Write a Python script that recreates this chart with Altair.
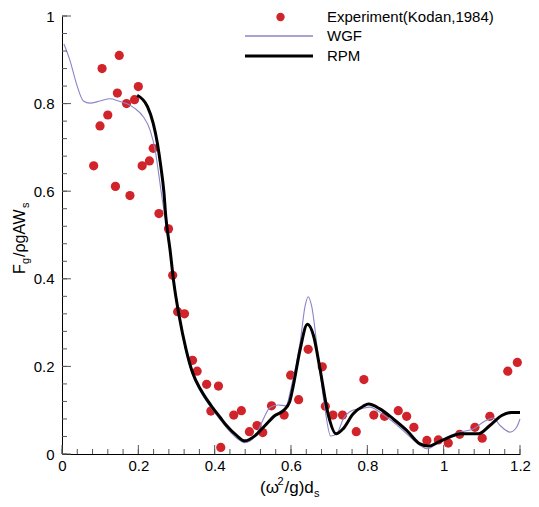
import altair as alt
import pandas as pd

# ---------------- data ----------------
exp_x = [0.083, 0.0996, 0.105, 0.120, 0.140, 0.145, 0.150, 0.169, 0.178, 0.190, 0.200,
         0.210, 0.229, 0.239, 0.254, 0.279, 0.290, 0.303, 0.321, 0.342, 0.354, 0.379,
         0.390, 0.410, 0.416, 0.450, 0.470, 0.491, 0.511, 0.526, 0.549, 0.582, 0.599,
         0.620, 0.645, 0.682, 0.690, 0.710, 0.735, 0.771, 0.791, 0.817, 0.845, 0.881,
         0.903, 0.922, 0.956, 0.986, 1.012, 1.042, 1.082, 1.101, 1.121, 1.168, 1.193]
exp_y = [0.658, 0.749, 0.880, 0.774, 0.611, 0.824, 0.910, 0.800, 0.590, 0.809, 0.839,
         0.658, 0.669, 0.698, 0.549, 0.514, 0.408, 0.325, 0.320, 0.214, 0.189, 0.159,
         0.098, 0.155, 0.015, 0.089, 0.099, 0.051, 0.065, 0.049, 0.110, 0.089, 0.180,
         0.124, 0.239, 0.199, 0.109, 0.089, 0.089, 0.051, 0.170, 0.089, 0.086, 0.099,
         0.086, 0.061, 0.031, 0.032, 0.025, 0.045, 0.061, 0.036, 0.086, 0.189, 0.209]

wgf_x = [0.005, 0.021, 0.038, 0.056, 0.073, 0.100, 0.126, 0.148, 0.169, 0.191, 0.213,
         0.231, 0.244, 0.252, 0.262, 0.272, 0.283, 0.293, 0.307, 0.325, 0.342, 0.364,
         0.392, 0.414, 0.431, 0.458, 0.479, 0.506, 0.525, 0.545, 0.565, 0.587, 0.600,
         0.624, 0.637, 0.645, 0.654, 0.672, 0.689, 0.704, 0.720, 0.737, 0.759, 0.781,
         0.807, 0.833, 0.868, 0.903, 0.938, 0.956, 0.986, 1.017, 1.043, 1.078, 1.104,
         1.130, 1.148, 1.174, 1.191, 1.200]
wgf_y = [0.936, 0.898, 0.845, 0.806, 0.801, 0.806, 0.811, 0.806, 0.800, 0.789, 0.770,
         0.739, 0.694, 0.648, 0.585, 0.530, 0.460, 0.386, 0.310, 0.234, 0.181, 0.141,
         0.104, 0.079, 0.060, 0.036, 0.026, 0.040, 0.075, 0.106, 0.112, 0.110, 0.150,
         0.255, 0.338, 0.359, 0.338, 0.217, 0.103, 0.041, 0.046, 0.080, 0.099, 0.103,
         0.107, 0.095, 0.073, 0.046, 0.020, 0.012, 0.026, 0.042, 0.050, 0.057, 0.073,
         0.082, 0.065, 0.050, 0.061, 0.080]

rpm_x = [0.197, 0.224, 0.239, 0.250, 0.259, 0.267, 0.272, 0.283, 0.293, 0.307, 0.325,
         0.342, 0.364, 0.392, 0.414, 0.431, 0.458, 0.479, 0.506, 0.532, 0.558, 0.580,
         0.596, 0.606, 0.624, 0.643, 0.659, 0.676, 0.698, 0.718, 0.737, 0.763, 0.789,
         0.803, 0.833, 0.868, 0.903, 0.938, 0.960, 0.986, 1.017, 1.043, 1.091, 1.121,
         1.152, 1.178, 1.200]
rpm_y = [0.819, 0.793, 0.755, 0.709, 0.656, 0.598, 0.542, 0.467, 0.391, 0.315, 0.239,
         0.186, 0.146, 0.109, 0.084, 0.065, 0.042, 0.030, 0.042, 0.065, 0.088, 0.099,
         0.118, 0.156, 0.239, 0.296, 0.270, 0.194, 0.088, 0.046, 0.058, 0.092, 0.109,
         0.114, 0.103, 0.080, 0.054, 0.023, 0.018, 0.027, 0.039, 0.046, 0.046, 0.065,
         0.088, 0.095, 0.095]

x_major = [0, 0.2, 0.4, 0.6, 0.8, 1.0, 1.2]
x_minor = [round(i * 0.04, 2) for i in range(31)]
y_major = [0, 0.2, 0.4, 0.6, 0.8, 1.0]
y_minor = [round(i * 0.04, 2) for i in range(26)]

legend_labels = ["Experiment(Kodan,1984)", "WGF", "RPM"]

# ---------------- styling ----------------
W, H = 458, 438
FONT = "Liberation Sans"
RED = "#d0232a"
LAV = "#8a84c8"

xs = alt.Scale(domain=[0, 1.2], nice=False, zero=False)
ys = alt.Scale(domain=[0, 1], nice=False, zero=False)

exp_df = pd.DataFrame({"x": exp_x, "y": exp_y})
wgf_df = pd.DataFrame({"x": wgf_x, "y": wgf_y, "o": range(len(wgf_x))})
rpm_df = pd.DataFrame({"x": rpm_x, "y": rpm_y, "o": range(len(rpm_x))})

xaxis = alt.Axis(values=x_major, format="~g", ticks=False, grid=False, title=None,
                 labelFont=FONT, labelFontSize=15, labelColor="#000",
                 domainColor="#000", labelPadding=4, labelFlush=False)
yaxis = alt.Axis(values=y_major, format="~g", ticks=False, grid=False, title=None,
                 labelFont=FONT, labelFontSize=15, labelColor="#000",
                 domainColor="#000", labelPadding=8, labelFlush=False)

points = alt.Chart(exp_df).mark_circle(size=85, color=RED, opacity=1).encode(
    x=alt.X("x:Q", scale=xs, axis=xaxis),
    y=alt.Y("y:Q", scale=ys, axis=yaxis),
)
wgf = alt.Chart(wgf_df).mark_line(color=LAV, strokeWidth=1.1, interpolate="monotone").encode(
    x=alt.X("x:Q", scale=xs), y=alt.Y("y:Q", scale=ys), order="o:Q")
rpm = alt.Chart(rpm_df).mark_line(color="#000", strokeWidth=3, interpolate="monotone").encode(
    x=alt.X("x:Q", scale=xs), y=alt.Y("y:Q", scale=ys), order="o:Q")

# inward ticks
xmaj = alt.Chart(pd.DataFrame({"v": x_major})).mark_rule(color="#555", strokeWidth=1).encode(
    x=alt.X("v:Q", scale=xs), y=alt.value(H), y2=alt.value(H - 9))
xmin = alt.Chart(pd.DataFrame({"v": x_minor})).mark_rule(color="#555", strokeWidth=1).encode(
    x=alt.X("v:Q", scale=xs), y=alt.value(H), y2=alt.value(H - 5))
ymaj = alt.Chart(pd.DataFrame({"v": y_major})).mark_rule(color="#555", strokeWidth=1).encode(
    y=alt.Y("v:Q", scale=ys), x=alt.value(0), x2=alt.value(9))
ymin = alt.Chart(pd.DataFrame({"v": y_minor})).mark_rule(color="#555", strokeWidth=1).encode(
    y=alt.Y("v:Q", scale=ys), x=alt.value(0), x2=alt.value(5))

# legend
leg_pt = alt.Chart(pd.DataFrame({"k": [0]})).mark_circle(size=70, color=RED, opacity=1).encode(
    x=alt.value(218.5), y=alt.value(1))
leg_wgf = alt.Chart(pd.DataFrame({"k": [0]})).mark_rule(color=LAV, strokeWidth=1.5).encode(
    x=alt.value(183), x2=alt.value(251), y=alt.value(20))
leg_rpm = alt.Chart(pd.DataFrame({"k": [0]})).mark_rule(color="#000", strokeWidth=3).encode(
    x=alt.value(183), x2=alt.value(251), y=alt.value(40))
leg_txt = alt.Chart(pd.DataFrame({"t": legend_labels, "yy": [1, 20, 40]})).mark_text(
    font=FONT, fontSize=15, align="left", baseline="middle", color="#000").encode(
    text="t:N", x=alt.value(265), y=alt.Y("yy:Q", scale=None))


def txt(s, x, y, size, angle=0):
    return alt.Chart(pd.DataFrame({"t": [s]})).mark_text(
        font=FONT, fontSize=size, align="left", baseline="alphabetic", color="#000",
        angle=angle).encode(text="t:N", x=alt.value(x), y=alt.value(y))


# x-axis title: (ω²/g)d_s
xt = [txt("(ω", 198, 477, 17), txt("2", 215.5, 469, 11),
      txt("/g)d", 222.5, 477, 17), txt("s", 252, 481, 11)]
# y-axis title: F_g/ρgAW_s (rotated)
yt = [txt("F", -37, 258, 16, 270), txt("g", -33, 248, 11, 270),
      txt("/ρgAW", -37, 241, 16, 270), txt("s", -33, 192, 11, 270)]

chart = alt.layer(
    points, wgf, rpm, xmaj, xmin, ymaj, ymin, leg_pt, leg_wgf, leg_rpm, leg_txt, *xt, *yt
).properties(
    width=W, height=H,
    autosize=alt.AutoSizeParams(type="none"),
    padding={"left": 54, "top": 8, "right": 11, "bottom": 45},
).configure_view(stroke=None).configure_axis(domainWidth=1)

chart.save("out.html", embed_options={"renderer": "svg", "actions": False})
